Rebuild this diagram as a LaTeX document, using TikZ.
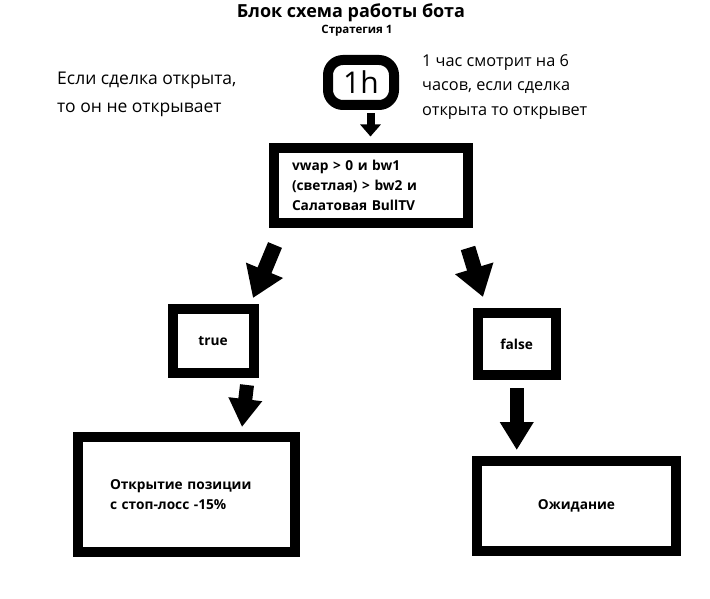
\documentclass[tikz,border=0pt]{standalone}
\usepackage{fontspec}
\setmainfont{Open Sans}
\usepackage{tikz}
\usetikzlibrary{calc,arrows.meta}

\tikzset{
  box/.style={draw, line width=10pt, inner sep=0pt},
  label/.style={font=\fontsize{13.7}{20}\selectfont\bfseries},
  note/.style={inner sep=0pt, align=left},
  bigarrow/.style={line width=15pt, -{Triangle[length=30pt,width=38pt]}},
  downarrow/.style={line width=14pt, -{Triangle[length=28pt,width=32pt]}},
  smallarrow/.style={line width=8pt, -{Triangle[length=12pt,width=20pt]}}
}

\begin{document}
\begin{tikzpicture}[x=1pt,y=-1pt]
\useasboundingbox (0,0) rectangle (710,599);
% titles
\node [font=\fontsize{18}{20}\selectfont\bfseries] (title) at (351,13) {Блок схема работы бота};
\node [font=\fontsize{11.5}{13}\selectfont\bfseries] (sub) at (357,31) {Стратегия 1};
% side notes
\node [note, anchor=west, font=\fontsize{17.5}{28}\selectfont] (leftnote) at (57,94) {Если сделка открыта,\\то он не открывает};
\node [note, anchor=west, font=\fontsize{16.3}{24.5}\selectfont] (rightnote) at (422,87) {1 час смотрит на 6\\часов, если сделка\\открыта то открывет};
% boxes
\node [box, rounded corners=15pt, minimum width=66pt, minimum height=45pt, font=\fontsize{30}{30}\selectfont] (hour) at (361,82.5) {1h};
\node [box, label, align=left, text width=157pt, inner xsep=18.5pt, minimum height=74pt] (cond) at (370.5,185.5) {vwap > 0 и bw1\\(светлая) > bw2 и\\Салатовая BullTV};
\node [box, label, minimum width=81pt, minimum height=63.5pt] (truebox) at (213,340.75) {true};
\node [box, label, minimum width=77.5pt, minimum height=62pt] (falsebox) at (516.75,344) {false};
\node [box, label, align=left, text width=153pt, inner xsep=32pt, minimum height=115pt] (openbox) at (186.5,494.5) {Открытие позиции\\с стоп-лосс -15\%};
\node [box, label, minimum width=199pt, minimum height=90pt] (waitbox) at (576.5,506) {Ожидание};
% arrows
\draw [smallarrow] ($(cond.north)+(0,-30)$) -- ($(cond.north)+(0,-7)$);
\draw [bigarrow] ($(cond.south west)+(6.5,17.5)$) -- ($(truebox.north east)+(-5.5,-6)$);
\draw [bigarrow] ($(cond.south east)+(-4.5,20.5)$) -- ($(falsebox.north west)+(10,-11)$);
\draw [downarrow] ($(truebox.south east)+(-11.5,7.5)$) -- ($(openbox.north)+(55.5,-5)$);
\draw [downarrow] ($(falsebox.south)+(0,8)$) -- ($(falsebox.south |- waitbox.north)+(0,-6)$);
\end{tikzpicture}
\end{document}
